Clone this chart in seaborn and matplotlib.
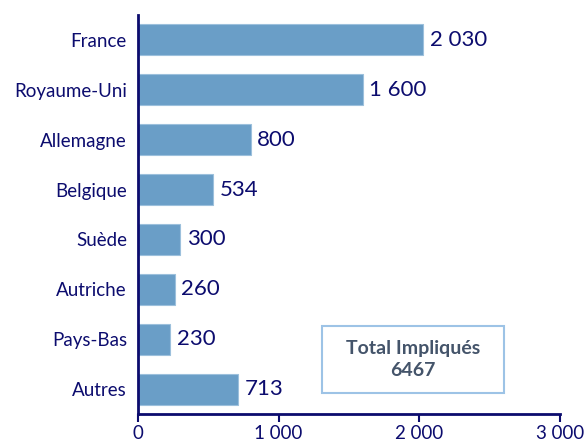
import matplotlib
matplotlib.use("Agg")
import matplotlib.pyplot as plt
import matplotlib.patches as mpatches
import seaborn as sns
import pandas as pd

pays = ["France", "Royaume-Uni", "Allemagne", "Belgique", "Suède",
        "Autriche", "Pays-Bas", "Autres"]
valeurs = [2030, 1600, 800, 534, 300, 260, 230, 713]
ticks = [0, 1000, 2000, 3000]
tick_labels = ["0", "1 000", "2 000", "3 000"]
total = 6467

navy = "#0c0c6e"
sns.set_style("white")
plt.rcParams["font.family"] = ["Lato", "DejaVu Sans"]

df = pd.DataFrame({"pays": pays, "valeur": valeurs})

fig = plt.figure(figsize=(5.85, 4.41), dpi=100)
ax = fig.add_axes([0.236, 0.061, 0.721, 0.905])
sns.barplot(data=df, x="valeur", y="pays", color="#6a9ec7", saturation=1,
            width=0.62, edgecolor="#9cc0dc", linewidth=0.8, ax=ax)

for i, v in enumerate(valeurs):
    lab = f"{v:,}".replace(",", " ")
    ax.text(v + 45, i, lab, va="center", ha="left", fontsize=16, color=navy)

ax.set_xlim(0, 3000)
ax.set_ylim(len(pays) - 0.5, -0.5)
ax.set_xticks(ticks)
ax.set_xticklabels(tick_labels)
ax.set_xlabel("")
ax.set_ylabel("")
ax.tick_params(axis="x", colors=navy, labelsize=13.5, length=6, width=1.5,
               direction="out", bottom=True, pad=2)
ax.tick_params(axis="y", colors=navy, labelsize=13.5, length=0, pad=8)
for s in ["top", "right"]:
    ax.spines[s].set_visible(False)
for s in ["left", "bottom"]:
    ax.spines[s].set_color(navy)
    ax.spines[s].set_linewidth(2)

box = mpatches.Rectangle((0.436, 0.053), 0.431, 0.168, transform=ax.transAxes,
                         facecolor="white", edgecolor="#9dc3e6", linewidth=1.5)
ax.add_patch(box)
ax.text(0.652, 0.137, "Total Impliqués\n" + str(total), transform=ax.transAxes,
        ha="center", va="center", fontsize=14, fontweight="bold",
        color="#44546a", linespacing=1.3)

fig.savefig("out.png", dpi=100)
